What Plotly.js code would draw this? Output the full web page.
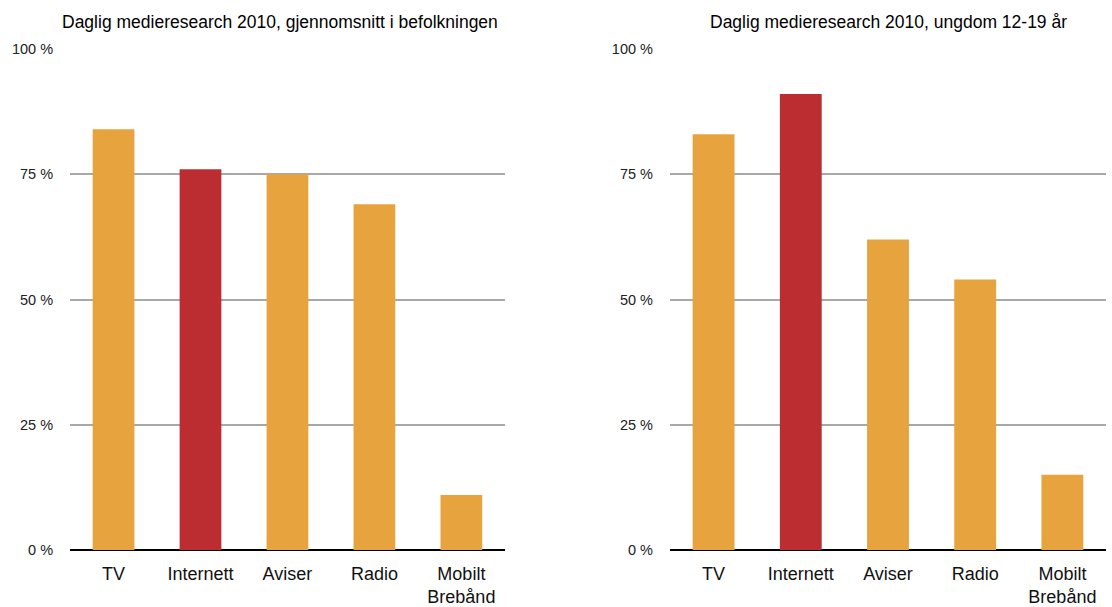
<!DOCTYPE html>
<html>
<head>
<meta charset="utf-8">
<script src="https://cdn.plot.ly/plotly-3.0.1.min.js"></script>
<style>html,body{margin:0;padding:0;background:#fff;}#chart{width:1112px;height:607px;}</style>
</head>
<body>
<div id="chart"></div>
<script>
const categories = ["TV", "Internett", "Aviser", "Radio", "Mobilt<br>Brebånd"];
const befolkning = [84, 76, 75, 69, 11];
const ungdom = [83, 91, 62, 54, 15];
const titleLeft = "Daglig medieresearch 2010, gjennomsnitt i befolkningen";
const titleRight = "Daglig medieresearch 2010, ungdom 12-19 år";
const tickVals = [0, 25, 50, 75, 100];
const tickText = ["0 %", "25 %", "50 %", "75 %", "100 %"];
const barColors = ["#E7A33E", "#BC2D32", "#E7A33E", "#E7A33E", "#E7A33E"];

const font = "Liberation Sans, Arial, Helvetica, sans-serif";

const traces = [
  {type: "bar", x: categories, y: befolkning, xaxis: "x", yaxis: "y",
   marker: {color: barColors}, hoverinfo: "skip"},
  {type: "bar", x: categories, y: ungdom, xaxis: "x2", yaxis: "y2",
   marker: {color: barColors}, hoverinfo: "skip"}
];

function xax(domain, anchor) {
  return {domain: domain, anchor: anchor, type: "category", showgrid: false,
    showline: false, zeroline: false, ticks: "", automargin: false,
    ticklabelstandoff: 11,
    tickfont: {family: font, size: 18, color: "#111"}, fixedrange: true};
}
function yax(anchor) {
  return {anchor: anchor, range: [0, 100], tickvals: tickVals, ticktext: tickText,
    showgrid: true, gridcolor: "#a8a8a8", gridwidth: 2,
    zeroline: true, zerolinecolor: "#000", zerolinewidth: 2,
    showline: false, ticks: "", automargin: false, ticklabelstandoff: 16,
    tickfont: {family: font, size: 14.5, color: "#222"}, fixedrange: true};
}

const layout = {
  width: 1112, height: 607,
  margin: {l: 0, r: 0, t: 49, b: 57},
  paper_bgcolor: "#fff", plot_bgcolor: "#fff",
  showlegend: false, bargap: 0.52,
  xaxis: xax([0.063, 0.454], "y"),
  yaxis: yax("x"),
  xaxis2: xax([0.6025, 0.9946], "y2"),
  yaxis2: yax("x2"),
  annotations: [
    {text: titleLeft, xref: "paper", yref: "paper", x: 0.252, y: 1, yshift: 27,
     xanchor: "center", yanchor: "middle", showarrow: false,
     font: {family: font, size: 17.5, color: "#000"}},
    {text: titleRight, xref: "paper", yref: "paper", x: 0.7986, y: 1, yshift: 27,
     xanchor: "center", yanchor: "middle", showarrow: false,
     font: {family: font, size: 17.5, color: "#000"}}
  ]
};

Plotly.newPlot("chart", traces, layout, {displayModeBar: false, staticPlot: true});
</script>
</body>
</html>
